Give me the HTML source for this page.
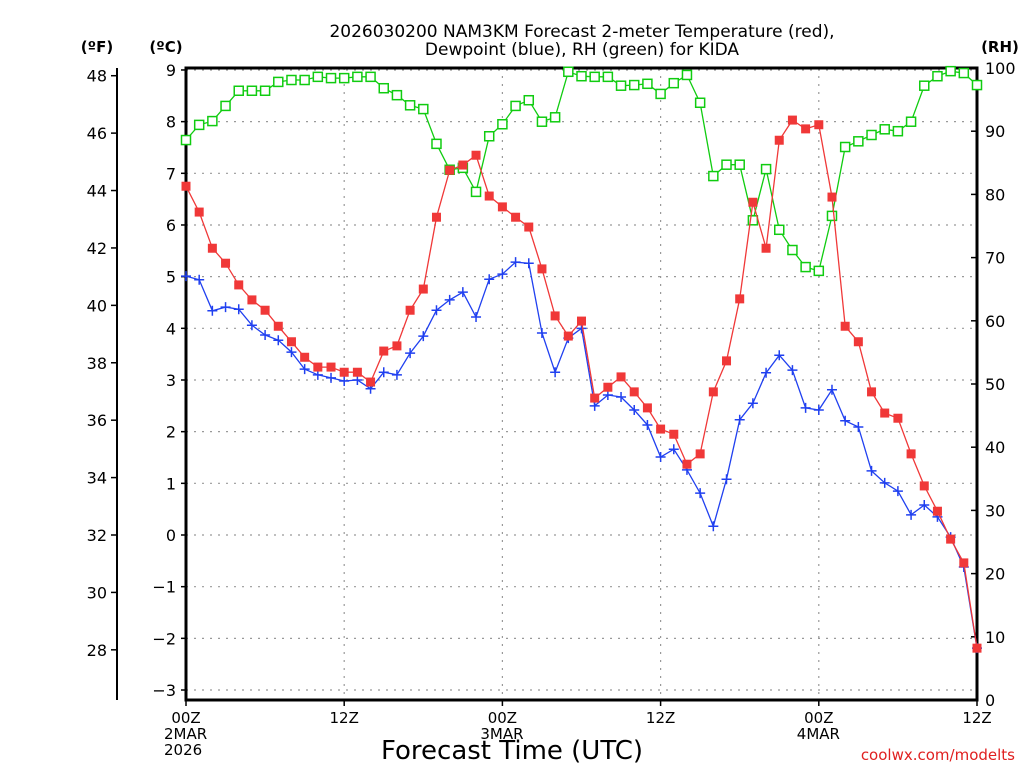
<!DOCTYPE html>
<html><head><meta charset="utf-8"><style>
body{margin:0;background:#fff;width:1024px;height:768px;overflow:hidden}
svg{display:block;font-family:"DejaVu Sans","Liberation Sans",sans-serif}
</style></head><body>
<svg id="chart" width="1024" height="768" viewBox="0 0 1024 768" xmlns="http://www.w3.org/2000/svg">
<text x="582" y="37" font-size="17" text-anchor="middle">2026030200 NAM3KM Forecast 2-meter Temperature (red),</text>
<text x="582" y="55" font-size="17" text-anchor="middle">Dewpoint (blue), RH (green) for KIDA</text>
<text x="97" y="52" font-size="15" font-weight="bold" text-anchor="middle">(ºF)</text>
<text x="166" y="52" font-size="15" font-weight="bold" text-anchor="middle">(ºC)</text>
<text x="1000" y="52" font-size="15" font-weight="bold" text-anchor="middle">(RH)</text>
<text x="512" y="759" font-size="26" text-anchor="middle">Forecast Time (UTC)</text>
<text x="1015" y="760" font-size="15" fill="#e02020" text-anchor="end">coolwx.com/modelts</text>
<g id="grid"></g><g id="axes"></g><g id="series"></g>
</svg>
<script>
const hours=[];for(let i=0;i<=60;i++)hours.push(i);
const tempC=[6.75,6.25,5.55,5.26,4.84,4.55,4.35,4.04,3.74,3.44,3.25,3.25,3.15,3.15,2.96,3.56,3.66,4.35,4.76,6.15,7.06,7.16,7.35,6.56,6.35,6.15,5.96,5.15,4.24,3.85,4.14,2.65,2.86,3.06,2.77,2.46,2.05,1.95,1.37,1.57,2.77,3.37,4.57,6.44,5.55,7.64,8.03,7.86,7.94,6.54,4.04,3.74,2.77,2.36,2.26,1.57,0.95,0.46,-0.08,-0.54,-2.19];
const dewC=[5.01,4.94,4.34,4.41,4.37,4.06,3.87,3.77,3.54,3.21,3.10,3.04,2.98,3.0,2.83,3.15,3.10,3.52,3.85,4.35,4.55,4.70,4.22,4.95,5.05,5.28,5.26,3.91,3.15,3.81,4.0,2.50,2.71,2.67,2.42,2.13,1.51,1.66,1.26,0.81,0.17,1.08,2.23,2.55,3.14,3.48,3.19,2.46,2.42,2.81,2.21,2.09,1.24,1.01,0.85,0.39,0.58,0.35,-0.04,-0.62,-2.19];
const rh=[88.6,91.0,91.6,94.0,96.4,96.4,96.4,97.8,98.1,98.1,98.6,98.4,98.4,98.6,98.6,96.8,95.7,94.1,93.5,88.0,83.9,84.2,80.4,89.2,91.1,94.0,94.9,91.5,92.2,99.4,98.7,98.6,98.6,97.2,97.3,97.5,95.9,97.6,98.9,94.5,82.9,84.7,84.7,75.9,84.0,74.4,71.2,68.5,67.9,76.6,87.5,88.4,89.4,90.3,90.0,91.5,97.2,98.7,99.5,99.2,97.3];
const cTicks=[-3,-2,-1,0,1,2,3,4,5,6,7,8,9];
const fTicks=[28,30,32,34,36,38,40,42,44,46,48];
const rhTicks=[0,10,20,30,40,50,60,70,80,90,100];
const xTickHours=[0,12,24,36,48,60];
const xTickLabels=[["00Z","2MAR","2026"],["12Z"],["00Z","3MAR"],["12Z"],["00Z","4MAR"],["12Z"]];
const L=186,R=977,T=68,B=700;
const xs=h=>L+(R-L)*h/60;
const yc=c=>535-c*51.67;
const yf=f=>yc((f-32)*5/9);
const yr=r=>B-(B-T)*r/100;
const NS="http://www.w3.org/2000/svg";
function mk(tag,attrs,parent,txt){const e=document.createElementNS(NS,tag);for(const k in attrs)e.setAttribute(k,attrs[k]);if(txt!==undefined)e.textContent=txt;parent.appendChild(e);return e;}
const grid=document.getElementById('grid'),axes=document.getElementById('axes'),ser=document.getElementById('series');
cTicks.forEach(c=>{const y=yc(c);
 const g=mk('line',{x1:L,x2:R,y1:y,y2:y,stroke:'#999','stroke-dasharray':'2,6','stroke-width':1.2},grid);
 
 
 const t=mk('text',{x:176,y:y+6,'font-size':16,'text-anchor':'end'},axes,c<0?'\u2212'+(-c):String(c));
 
 
 mk('line',{x1:L-5,x2:L,y1:y,y2:y,stroke:'#000','stroke-width':1.5},axes);
});
xTickHours.forEach((h,i)=>{const x=xs(h);
 if(h>0&&h<60){const g=mk('line',{x1:x,x2:x,y1:T,y2:B,stroke:'#999','stroke-dasharray':'2,6','stroke-width':1.2},grid);
 
 }
 mk('line',{x1:x,x2:x,y1:B,y2:B+6,stroke:'#000','stroke-width':1.5},axes);
 xTickLabels[i].forEach((s,j)=>{const t=mk('text',{x:x,y:723+j*16,'font-size':15,'text-anchor':j==0?'middle':'start','dx':j==0?0:-22},axes,s);
 
 });
});
mk('line',{x1:117,x2:117,y1:T,y2:B,stroke:'#000','stroke-width':2},axes);
fTicks.forEach(f=>{const y=yf(f);
 mk('line',{x1:111,x2:117,y1:y,y2:y,stroke:'#000','stroke-width':1.5},axes);
 const t=mk('text',{x:107,y:y+6,'font-size':16,'text-anchor':'end'},axes,String(f));
 
 
});
rhTicks.forEach(r=>{const y=yr(r);
 mk('line',{x1:R,x2:R-6,y1:y,y2:y,stroke:'#000','stroke-width':1.5},axes);
 const t=mk('text',{x:985,y:y+6,'font-size':16,'text-anchor':'start'},axes,String(r));
 
 
});
const fr=mk('rect',{x:L,y:T,width:R-L,height:B-T,fill:'none',stroke:'#000','stroke-width':3},axes);


function series(vals,yfn,color,kind,name){
 const pts=vals.map((v,i)=>xs(hours[i]).toFixed(1)+','+yfn(v).toFixed(1)).join(' ');
 const pl=mk('polyline',{points:pts,fill:'none',stroke:color,'stroke-width':1.3},ser);
 
 
 vals.forEach((v,i)=>{const x=xs(hours[i]),y=yfn(v);let m;
  if(kind=='fill')m=mk('rect',{x:x-4.5,y:y-4.5,width:9,height:9,fill:color},ser);
  else if(kind=='open')m=mk('rect',{x:x-4.5,y:y-4.5,width:9,height:9,fill:'#fff',stroke:color,'stroke-width':1.5},ser);
  else m=mk('path',{d:`M${x-5},${y}H${x+5}M${x},${y-5}V${y+5}`,stroke:color,'stroke-width':1.5},ser);
  
  });
}
series(rh,yr,'#10cc10','open','rh');
series(dewC,yc,'#2040f0','plus','dewpoint');
series(tempC,yc,'#f03838','fill','temperature');
</script>
</body></html>
